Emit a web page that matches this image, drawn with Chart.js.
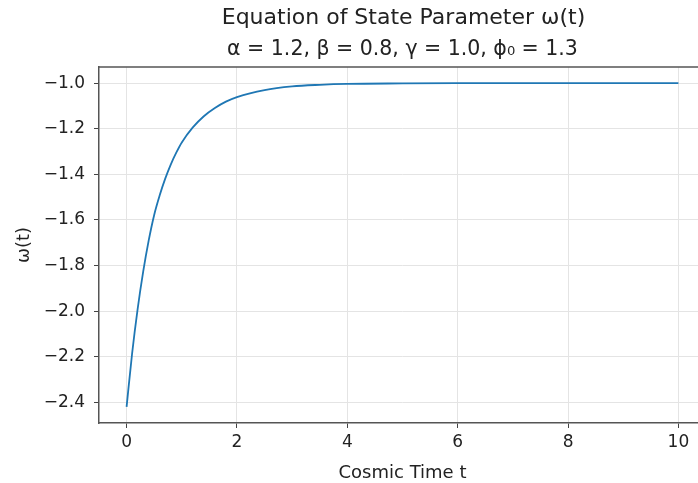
<!DOCTYPE html>
<html>
<head>
<meta charset="utf-8">
<script src="https://cdn.jsdelivr.net/npm/chart.js@4/dist/chart.umd.min.js"></script>
<style>
  html, body { margin: 0; padding: 0; background: #fff; overflow: hidden; width: 698px; height: 483px; }
  #wrap { width: 720px; height: 483px; }
</style>
</head>
<body>
<div id="wrap"><canvas id="c" width="720" height="483"></canvas></div>
<script>
// ---- data ----
const tValues = [0, 0.1, 0.2, 0.3, 0.4, 0.5, 0.6, 0.7, 0.8, 0.9, 1.0, 1.2, 1.4, 1.6, 1.8, 2.0, 2.5, 3.0, 3.5, 4, 5, 6, 7, 8, 9, 10];
const omegaValues = [-2.42, -2.186, -1.991, -1.828, -1.691, -1.578, -1.492, -1.419, -1.357, -1.305, -1.26, -1.194, -1.145, -1.109, -1.081, -1.061, -1.03, -1.014, -1.007, -1.003, -1.001, -1.0, -1.0, -1.0, -1.0, -1.0];
const xTicks = [0, 2, 4, 6, 8, 10];
const yTicks = [-2.4, -2.2, -2.0, -1.8, -1.6, -1.4, -1.2, -1.0];
const titleLine1 = "Equation of State Parameter \u03c9(t)";
const titleLine2 = "\u03b1 = 1.2, \u03b2 = 0.8, \u03b3 = 1.0, \u03d5\u2080 = 1.3";
const xLabel = "Cosmic Time t";
const yLabel = "\u03c9(t)";

const FONT = "'DejaVu Sans', sans-serif";

const decor = {
  id: 'decor',
  afterDraw(chart) {
    const ctx = chart.ctx, a = chart.chartArea;
    const cx = (a.left + a.right) / 2;
    ctx.save();
    // top and right spines
    ctx.strokeStyle = '#555';
    ctx.lineWidth = 1.5;
    ctx.beginPath();
    ctx.moveTo(a.left, a.top);
    ctx.lineTo(a.right, a.top);
    ctx.lineTo(a.right, a.bottom);
    ctx.stroke();
    // titles
    ctx.fillStyle = '#222';
    ctx.textAlign = 'center';
    ctx.textBaseline = 'alphabetic';
    ctx.font = "22px " + FONT;
    ctx.fillText(titleLine1, cx + 1, 24);
    ctx.font = "20.5px " + FONT;
    ctx.fillText(titleLine2, cx, 55);
    // axis labels
    ctx.font = "18px " + FONT;
    ctx.textBaseline = 'middle';
    ctx.fillText(xLabel, cx, 473);
    ctx.translate(24, (a.top + a.bottom) / 2);
    ctx.rotate(-Math.PI / 2);
    ctx.fillText(yLabel, 0, 0);
    ctx.restore();
  }
};

new Chart(document.getElementById('c'), {
  type: 'line',
  data: {
    labels: tValues,
    datasets: [{
      data: tValues.map((t, i) => ({ x: t, y: omegaValues[i] })),
      borderColor: '#1f77b4',
      borderWidth: 1.8,
      pointRadius: 0,
      fill: false,
      cubicInterpolationMode: 'monotone'
    }]
  },
  options: {
    responsive: false,
    animation: false,
    layout: { padding: { left: 0, right: 14, top: 67, bottom: 0 } },
    plugins: { legend: { display: false }, title: { display: false }, tooltip: { enabled: false } },
    scales: {
      x: {
        type: 'linear',
        min: -0.5, max: 10.5,
        afterBuildTicks: s => { s.ticks = xTicks.map(v => ({ value: v })); },
        afterFit: s => { s.height = 60; },
        grid: { color: '#e4e4e4', lineWidth: 1, tickLength: 5, tickColor: '#444', tickWidth: 1 },
        border: { color: '#555', width: 1.5 },
        ticks: { color: '#222', font: { family: FONT, size: 17 }, padding: 4, maxRotation: 0,
                 callback: v => String(v) }
      },
      y: {
        type: 'linear',
        min: -2.491, max: -0.929,
        afterBuildTicks: s => { s.ticks = yTicks.map(v => ({ value: v })); },
        afterFit: s => { s.width = 99; },
        grid: { color: '#e4e4e4', lineWidth: 1, tickLength: 5, tickColor: '#444', tickWidth: 1 },
        border: { color: '#555', width: 1.5 },
        ticks: { color: '#222', font: { family: FONT, size: 17 }, padding: 9,
                 callback: v => (v < 0 ? '\u2212' : '') + Math.abs(v).toFixed(1) }
      }
    }
  },
  plugins: [decor]
});
</script>
</body>
</html>
